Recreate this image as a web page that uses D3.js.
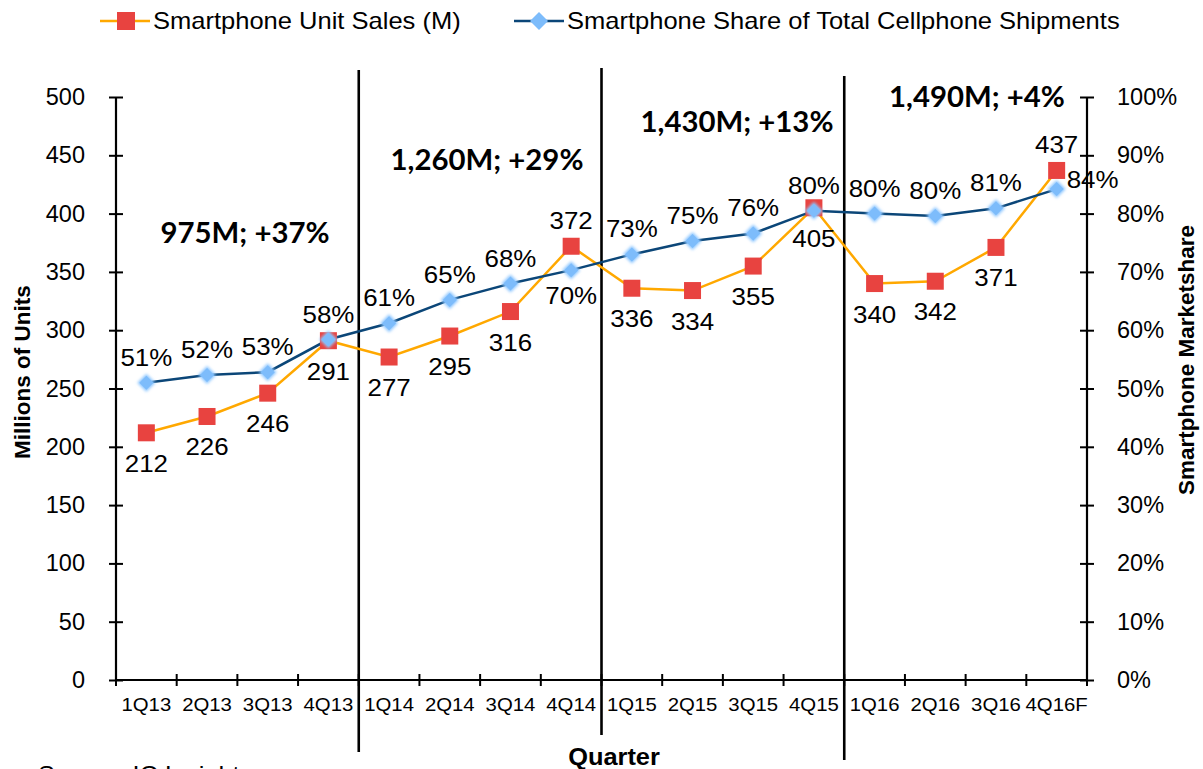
<html>
<head>
<script src="https://d3js.org/d3.v7.min.js"></script>
<style>
body { margin: 0; background: #fff; font-family: 'Liberation Sans', Arial, sans-serif; }
</style>
</head>
<body>
<div id="chart"></div>
<script>
var quarters = ["1Q13","2Q13","3Q13","4Q13","1Q14","2Q14","3Q14","4Q14","1Q15","2Q15","3Q15","4Q15","1Q16","2Q16","3Q16","4Q16F"];
var unitSales = [212,226,246,291,277,295,316,372,336,334,355,405,340,342,371,437];
var sharePct = [51,52.3,52.8,58.4,61.2,65.2,68,70.3,73,75.3,76.6,80.5,80,79.6,80.9,84.2];
var shareLabels = ["51%","52%","53%","58%","61%","65%","68%","70%","73%","75%","76%","80%","80%","80%","81%","84%"];
var yearTotals = ["975M; +37%","1,260M; +29%","1,430M; +13%","1,490M; +4%"];
var leftTicks = [0,50,100,150,200,250,300,350,400,450,500];
var rightTicks = [0,10,20,30,40,50,60,70,80,90,100];

var W = 1203, H = 769;
var SX = 1.08; // the original text is a bit wide
var svg = d3.select("#chart").append("svg").attr("width", W).attr("height", H);

var pL = 116, pR = 1087, pT = 97, pB = 680;

var x = d3.scaleBand().domain(quarters).range([pL, pR]);
var y = d3.scaleLinear().domain([0, 500]).range([pB, pT]);
var y2 = d3.scaleLinear().domain([0, 100]).range([pB, pT]);

// stretched text helper
function txt(parent, tx, ty, s, size, anchor, sx) {
  return parent.append("text")
    .attr("transform", "translate(" + tx + "," + ty + ") scale(" + (sx || SX) + ",1)")
    .attr("text-anchor", anchor || "middle").attr("font-size", size).text(s);
}

// axes
var axL = svg.append("g").attr("transform", "translate(" + pL + ",0)")
  .call(d3.axisLeft(y).tickValues(leftTicks).tickSize(7).tickPadding(24));
axL.selectAll(".tick line").attr("x2", -7).attr("x1", 7);
var axR = svg.append("g").attr("transform", "translate(" + pR + ",0)")
  .call(d3.axisRight(y2).tickValues(rightTicks).tickSize(7).tickPadding(23).tickFormat(function(d) { return d + "%"; }));
axR.selectAll(".tick line").attr("x1", -7).attr("x2", 7);
[axL, axR].forEach(function(a) {
  a.select(".domain").attr("d", "M0," + pT + "V" + pB).attr("stroke", "#000").attr("stroke-width", 2.2);
  a.selectAll(".tick line").attr("stroke", "#000").attr("stroke-width", 2);
  a.selectAll("text").attr("font-size", 23.5).attr("font-family", "Liberation Sans, Arial").attr("fill", "#000");
});

// x axis with ticks at band boundaries
var bounds = quarters.map(function(q) { return x(q); }).concat([pR]);
svg.append("line").attr("x1", pL).attr("x2", pR).attr("y1", pB).attr("y2", pB)
  .attr("stroke", "#000").attr("stroke-width", 2.2);
svg.selectAll(".xt").data(bounds).enter().append("line")
  .attr("x1", function(d) { return d; }).attr("x2", function(d) { return d; })
  .attr("y1", pB - 6).attr("y2", pB + 6).attr("stroke", "#000").attr("stroke-width", 2);
quarters.forEach(function(q) {
  txt(svg, x(q) + x.bandwidth() / 2, 711, q, 18.5, "middle", 1.1);
});

// year separators
var sepTop = [70, 68, 76], sepBot = [752, 735, 760];
[4, 8, 12].forEach(function(i, k) {
  svg.append("line").attr("x1", x(quarters[i])).attr("x2", x(quarters[i]))
    .attr("y1", sepTop[k]).attr("y2", sepBot[k]).attr("stroke", "#000").attr("stroke-width", 2.6);
});

// year annotations
var annPos = [[245, 243], [487, 170], [737, 132], [977, 107]];
yearTotals.forEach(function(t, i) {
  txt(svg, annPos[i][0], annPos[i][1], t, 28.5, "middle", 1.03)
    .attr("font-family", "Lato, 'Open Sans', sans-serif").attr("font-weight", "bold");
});

var cx = function(i) { return x(quarters[i]) + x.bandwidth() / 2; };

// sales line
var lineS = d3.line().x(function(d, i) { return cx(i); }).y(function(d) { return y(d); });
svg.append("path").datum(unitSales).attr("d", lineS).attr("fill", "none")
  .attr("stroke", "#ffa800").attr("stroke-width", 2.5);

// share line
var lineP = d3.line().x(function(d, i) { return cx(i); }).y(function(d) { return y2(d); });
svg.append("path").datum(sharePct).attr("d", lineP).attr("fill", "none")
  .attr("stroke", "#0b4678").attr("stroke-width", 2.5);

// glow for diamonds
var defs = svg.append("defs");
var f = defs.append("filter").attr("id", "glow").attr("x", "-50%").attr("y", "-50%").attr("width", "200%").attr("height", "200%");
f.append("feGaussianBlur").attr("stdDeviation", 1.6);

// red squares
svg.selectAll(".sq").data(unitSales).enter().append("rect")
  .attr("x", function(d, i) { return cx(i) - 8.5; }).attr("y", function(d) { return y(d) - 8.5; })
  .attr("width", 17).attr("height", 17).attr("fill", "#e84340");

// blue diamonds
var diamond = "M0,-9L9,0L0,9L-9,0Z";
svg.selectAll(".dm").data(sharePct).enter().append("path")
  .attr("d", diamond).attr("fill", "#8cc6ff").attr("filter", "url(#glow)")
  .attr("transform", function(d, i) { return "translate(" + cx(i) + "," + y2(d) + ")"; });
svg.selectAll(".dm2").data(sharePct).enter().append("path")
  .attr("d", "M0,-7L7,0L0,7L-7,0Z").attr("fill", "#7dbcfb")
  .attr("transform", function(d, i) { return "translate(" + cx(i) + "," + y2(d) + ")"; });

// sales labels
var salesAbove = { 7: true, 15: true };
unitSales.forEach(function(d, i) {
  txt(svg, cx(i), salesAbove[i] ? y(d) - 17 : y(d) + 39, d, 24);
});

// share labels
sharePct.forEach(function(d, i) {
  if (i === 15) txt(svg, cx(i) + 10, y2(d) - 1, shareLabels[i], 24, "start");
  else if (i === 7) txt(svg, cx(i), y2(d) + 34, shareLabels[i], 24);
  else txt(svg, cx(i), y2(d) - 17, shareLabels[i], 24);
});

// axis titles
svg.append("text").attr("transform", "translate(30,372) rotate(-90)").attr("text-anchor", "middle")
  .attr("font-weight", "bold").attr("font-size", 22.5).text("Millions of Units");
svg.append("text").attr("transform", "translate(1194,360) rotate(-90)").attr("text-anchor", "middle")
  .attr("font-weight", "bold").attr("font-size", 22.5).text("Smartphone Marketshare");
txt(svg, 614, 765, "Quarter", 23.5).attr("font-weight", "bold");
txt(svg, 38, 783, "Source: IC Insights", 23.5, "start");

// legend
var lg = svg.append("g");
lg.append("line").attr("x1", 100).attr("x2", 150).attr("y1", 21).attr("y2", 21).attr("stroke", "#ffa800").attr("stroke-width", 2.5);
lg.append("rect").attr("x", 117).attr("y", 12).attr("width", 18).attr("height", 18).attr("fill", "#e84340");
txt(lg, 153, 29, "Smartphone Unit Sales (M)", 23, "start", 1.11);
lg.append("line").attr("x1", 514).attr("x2", 564).attr("y1", 21).attr("y2", 21).attr("stroke", "#0b4678").attr("stroke-width", 2.5);
lg.append("path").attr("d", diamond).attr("fill", "#7dbcfb").attr("transform", "translate(539,21)");
txt(lg, 567, 29, "Smartphone Share of Total Cellphone Shipments", 23, "start", 1.11);
</script>
</body>
</html>
